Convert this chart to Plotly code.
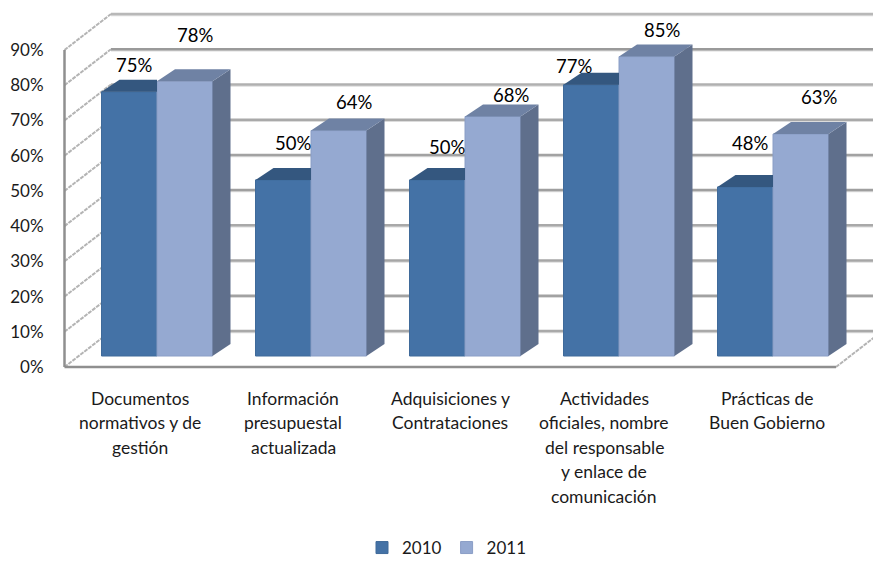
import plotly.graph_objects as go

categories = [
    ["Documentos", "normativos y de", "gestión"],
    ["Información", "presupuestal", "actualizada"],
    ["Adquisiciones y", "Contrataciones"],
    ["Actividades", "oficiales, nombre", "del responsable", "y enlace de", "comunicación"],
    ["Prácticas de", "Buen Gobierno"],
]
series_names = ["2010", "2011"]
values_2010 = [0.75, 0.50, 0.50, 0.77, 0.48]
values_2011 = [0.78, 0.64, 0.68, 0.85, 0.63]
y_ticks = [0, .1, .2, .3, .4, .5, .6, .7, .8, .9]
y_tick_labels = ["0%", "10%", "20%", "30%", "40%", "50%", "60%", "70%", "80%", "90%"]

# Layout constants (pixels of the 873x561 page)
W, H = 873, 561
PLOT_L, PLOT_B = 50, 380
PX_X = 154.0                # one category
PX_Y = 317 / 0.9            # one unit of value
X0_PX, Y0_PX = 142.0, 367.0  # category 0 centre, value 0 on the front plane
dx = lambda px: px / PX_X
dy = lambda px: px / PX_Y

BAR_W = dx(55.5)
BAR_SHIFT = dx(15)          # bars stand inside the floor depth
BAR_BASE = dy(11)
DEPTH_X, DEPTH_Y = dx(18), dy(12)
WALL_X, WALL_Y = dx(46.5), dy(36)

x_range = [(PLOT_L - X0_PX) / PX_X, (W - X0_PX) / PX_X]
y_range = [dy(Y0_PX - PLOT_B), dy(Y0_PX)]
x_left = (64.5 - X0_PX) / PX_X
x_right = (836 - X0_PX) / PX_X

colors = {
    "2010": dict(front="#4472a6", top="#34577f", edge="#3f6a9a"),
    "2011": dict(front="#95a9d1", top="#6f82a4", side="#5f6f8c", edge="#8a9ec6"),
}
label_shift_x = [[5, 10, 10, -17, 5], [10, 15, 18, 15, 18]]
label_shift_y = [[27, 37, 33, 19, 44], [46, 29, 21, 27, 37]]
cat_shift_x = [-2, -3, 0, 0, 9]

fig = go.Figure()
shapes, annotations = [], []

grid_shades = ["#a9a9a9", "#a2a2a2", "#a6a6a6", "#a9a9a9", "#9f9f9f",
               "#a2a2a2", "#a9a9a9", "#b0b0b0", "#9a9a9a", "#b8b8b8"]
for t, shade in zip(y_ticks, grid_shades):
    # back wall: soft shadow then line
    shapes.append(dict(type="line", layer="below", xref="x", yref="y",
                       x0=x_left + WALL_X, x1=x_range[1], y0=t + WALL_Y - dy(1.5), y1=t + WALL_Y - dy(1.5),
                       line=dict(color="#dcdcdc", width=1.5)))
    shapes.append(dict(type="line", layer="below", xref="x", yref="y",
                       x0=x_left + WALL_X, x1=x_range[1], y0=t + WALL_Y, y1=t + WALL_Y,
                       line=dict(color=shade, width=2.5)))
    # left wall
    shapes.append(dict(type="line", layer="below", xref="x", yref="y",
                       x0=x_left, x1=x_left + WALL_X, y0=t, y1=t + WALL_Y,
                       line=dict(color="#b4b4b4", width=2, dash="4px,1px")))

# floor: right edge and front/left axis lines
shapes.append(dict(type="line", layer="below", xref="x", yref="y",
                   x0=x_right, x1=x_right + WALL_X, y0=0, y1=WALL_Y,
                   line=dict(color="#b4b4b4", width=2, dash="4px,1px")))
shapes.append(dict(type="line", layer="below", xref="x", yref="y",
                   x0=x_left, x1=x_left, y0=0, y1=y_ticks[-1],
                   line=dict(color="#8f8f8f", width=2.5)))
shapes.append(dict(type="line", layer="below", xref="x", yref="y",
                   x0=x_left, x1=x_right, y0=0, y1=0,
                   line=dict(color="#8f8f8f", width=2.5)))

idx = list(range(len(categories)))
x_2010 = [i + BAR_SHIFT - BAR_W / 2 for i in idx]
x_2011 = [i + BAR_SHIFT + BAR_W / 2 for i in idx]

for name, xs, vals in ((series_names[0], x_2010, values_2010), (series_names[1], x_2011, values_2011)):
    c = colors[name]
    fig.add_trace(go.Bar(x=xs, y=vals, base=BAR_BASE, width=BAR_W, name=name,
                         marker=dict(color=c["front"], line=dict(color=c["edge"], width=1))))

def poly(xs, ys, color):
    fig.add_trace(go.Scatter(x=xs, y=ys, mode="lines", fill="toself", fillcolor=color,
                             line=dict(width=0, color=color), hoverinfo="skip", showlegend=False))

for xc, v in zip(x_2010, values_2010):
    l, r, t = xc - BAR_W / 2, xc + BAR_W / 2, v + BAR_BASE
    poly([l, l + DEPTH_X, r, r, l], [t, t + DEPTH_Y, t + DEPTH_Y, t, t], colors["2010"]["top"])
for xc, v in zip(x_2011, values_2011):
    l, r, t = xc - BAR_W / 2, xc + BAR_W / 2, v + BAR_BASE
    poly([r, r + DEPTH_X, r + DEPTH_X, r, r],
         [BAR_BASE, BAR_BASE + DEPTH_Y, t + DEPTH_Y, t, BAR_BASE], colors["2011"]["side"])
    poly([l, l + DEPTH_X, r + DEPTH_X, r, l], [t, t + DEPTH_Y, t + DEPTH_Y, t, t], colors["2011"]["top"])

LABEL_FONT = dict(family="Lato, sans-serif", size=18.5, color="#000000")
for s, (xs, vals) in enumerate(((x_2010, values_2010), (x_2011, values_2011))):
    for j, (xc, v) in enumerate(zip(xs, vals)):
        annotations.append(dict(x=xc, y=v + BAR_BASE, xref="x", yref="y", text=f"{round(v * 100)}%",
                                showarrow=False, xanchor="center", yanchor="middle",
                                xshift=label_shift_x[s][j], yshift=label_shift_y[s][j], font=LABEL_FONT))

TICK_FONT = dict(family="Lato, sans-serif", size=17.5, color="#1a1a1a")
for i, lines in enumerate(categories):
    for k, line in enumerate(lines):
        annotations.append(dict(x=i, y=0, xref="x", yref="y", text=line, showarrow=False,
                                xanchor="center", yanchor="middle",
                                xshift=cat_shift_x[i], yshift=-(31 + 24.6 * k), font=TICK_FONT))

fig.update_layout(
    width=W, height=H,
    margin=dict(l=0, r=0, t=0, b=0, autoexpand=False),
    paper_bgcolor="white", plot_bgcolor="white",
    barmode="overlay",
    shapes=shapes, annotations=annotations,
    showlegend=True,
    legend=dict(orientation="h", x=447 / W, xanchor="center", y=13 / H, yanchor="middle",
                traceorder="normal", bgcolor="rgba(0,0,0,0)",
                font=dict(family="Lato, sans-serif", size=17, color="#1a1a1a")),
    xaxis=dict(domain=[PLOT_L / W, 1], range=x_range, showgrid=False, zeroline=False,
               showline=False, tickvals=idx, ticktext=[""] * len(idx), ticks=""),
    yaxis=dict(domain=[1 - PLOT_B / H, 1], range=y_range, showgrid=False, zeroline=False,
               showline=False, tickvals=y_ticks, ticktext=y_tick_labels, ticks="outside",
               ticklen=2, tickcolor="rgba(0,0,0,0)",
               tickfont=dict(family="Lato, sans-serif", size=17, color="#1a1a1a")),
)

fig.write_html("out.html", config={"displayModeBar": False},
               post_script="document.body.style.margin='0';")
